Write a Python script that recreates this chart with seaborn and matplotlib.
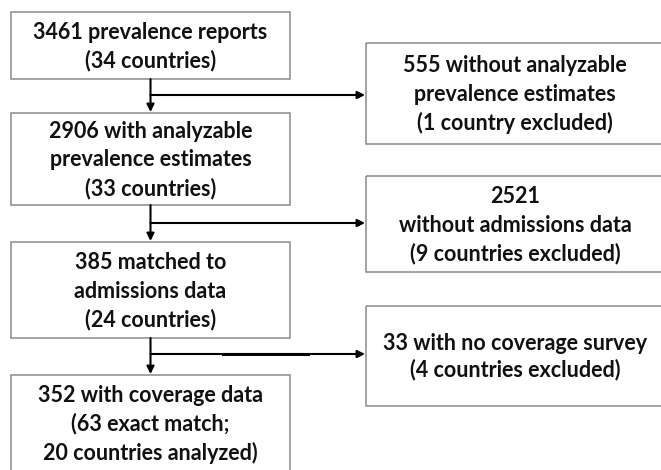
"""
Study selection flow chart
"""
import matplotlib
matplotlib.use("Agg")
import matplotlib.pyplot as plt
import matplotlib.patches as patches
import seaborn as sns

# flow data: kept records at each step and the records dropped between steps
kept_counts = [3461, 2906, 385, 352]
kept_lines = [
    ["3461 prevalence reports", "(34 countries)"],
    ["2906 with analyzable", "prevalence estimates", "(33 countries)"],
    ["385 matched to", "admissions data", "(24 countries)"],
    ["352 with coverage data", "(63 exact match;", "20 countries analyzed)"],
]
dropped_counts = [555, 2521, 33]
dropped_lines = [
    ["555 without analyzable", "prevalence estimates", "(1 country excluded)"],
    ["2521", "without admissions data", "(9 countries excluded)"],
    ["33 with no coverage survey", "(4 countries excluded)"],
]

# layout (pixels, y downwards)
W, H = 661, 470
left_x0, left_x1 = 11, 290
left_boxes = [(12, 79), (113, 205), (242, 338), (375, 471)]
right_x0, right_x1 = 366, 664
right_boxes = [(43, 144), (176, 272), (306, 406)]
branch_y = [95, 223, 354]
spine_x = 150.5
line_gap = 28.5

sns.set_theme(style="white")
plt.rcParams['font.family'] = ['Lato', 'DejaVu Sans']

fig = plt.figure(figsize=(W / 100, H / 100), dpi=100)
ax = fig.add_axes([0, 0, 1, 1])
ax.set_xlim(0, W)
ax.set_ylim(H, 0)
ax.axis('off')

box_edge = '#8a8a8a'
text_kw = dict(ha='center', va='center', fontsize=15.5, fontweight='bold',
               color='#111111')


def draw_box(x0, x1, y0, y1, lines, gap=line_gap):
    ax.add_patch(patches.Rectangle((x0, y0), x1 - x0, y1 - y0, fill=False,
                                   edgecolor=box_edge, linewidth=1.1,
                                   clip_on=False))
    cx = (x0 + x1) / 2
    cy = (y0 + y1) / 2
    n = len(lines)
    for i, s in enumerate(lines):
        ax.text(cx, cy + (i - (n - 1) / 2) * gap + 1, s, **text_kw)


for (y0, y1), lines in zip(left_boxes, kept_lines):
    draw_box(left_x0, left_x1, y0, y1, lines)

for (y0, y1), lines in zip(right_boxes, dropped_lines):
    gap = line_gap if len(lines) == 3 else 26
    draw_box(right_x0, right_x1, y0, y1, lines, gap=gap)

arrow = dict(arrowstyle='-|>', mutation_scale=11, lw=1.5, color='black',
             shrinkA=0, shrinkB=0)

# vertical arrows down the main flow
for i in range(len(left_boxes) - 1):
    ax.annotate('', xy=(spine_x, left_boxes[i + 1][0] - 1),
                xytext=(spine_x, left_boxes[i][1]), arrowprops=arrow)

# side arrows to the excluded boxes
for y in branch_y:
    ax.annotate('', xy=(right_x0 - 1, y), xytext=(spine_x, y),
                arrowprops=arrow)

# the last branch has a slightly offset, heavier piece in the middle
ax.plot([222, 310], [branch_y[2] + 0.8, branch_y[2] + 0.8], color='black',
        lw=1.4, solid_capstyle='butt')

fig.savefig('out.png', dpi=100)
